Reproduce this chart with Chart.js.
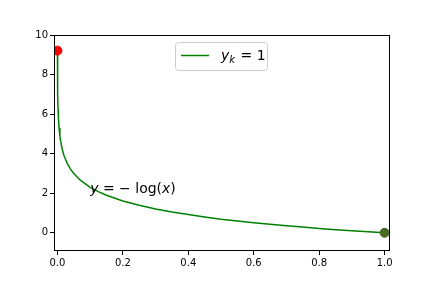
<!DOCTYPE html>
<html><head><meta charset="utf-8">
<script src="https://cdn.jsdelivr.net/npm/chart.js@4/dist/chart.umd.min.js"></script>
<style>html,body{margin:0;padding:0;background:#fff}#w{width:432px;height:288px}</style>
</head><body><div id="w"><canvas id="c" width="432" height="288"></canvas></div>
<script>
const curveX = [0.0001,0.0003,0.0005,0.001,0.002,0.003,0.005,0.0075,0.01,0.015,0.02,0.03,0.04,0.05,0.07,0.1,0.125,0.15,0.2,0.25,0.3,0.35,0.4,0.45,0.5,0.55,0.6,0.65,0.7,0.75,0.8,0.85,0.9,0.95,1.0];
const curveY = [9.21,8.11,7.60,6.91,6.21,5.81,5.30,4.89,4.61,4.20,3.91,3.51,3.22,3.00,2.66,2.30,2.08,1.90,1.61,1.39,1.20,1.05,0.92,0.80,0.69,0.60,0.51,0.43,0.36,0.29,0.22,0.16,0.11,0.05,0.00];
const startPoint = [0.0001, 9.21];
const endPoint = [1.0, 0.0];
const xTicks = [0.0,0.2,0.4,0.6,0.8,1.0];
const yTicks = [0,2,4,6,8,10];
const legendLabel = "y_k = 1";
const annotation = {x:0.1, y:2, text:"y = −log(x)"};

const curveData = curveX.map((x,i)=>({x:x,y:curveY[i]}));

const overlay = {
  id:'overlay',
  afterDatasetsDraw(chart){
    const ctx = chart.ctx, xs = chart.scales.x, ys = chart.scales.y;
    ctx.save();
    // frame
    ctx.strokeStyle='#000'; ctx.lineWidth=1;
    ctx.strokeRect(54.5,35.5,335,215);
    // annotation text
    let px = xs.getPixelForValue(annotation.x), py = ys.getPixelForValue(annotation.y);
    ctx.fillStyle = '#000';
    ctx.textBaseline = 'alphabetic';
    ctx.textAlign = 'left';
    const it = 'italic 14px "DejaVu Sans"', rm = '14px "DejaVu Sans"';
    const parts = [[it,'y'],[rm,' = − log('],[it,'x'],[rm,')']];
    for (const [f,t] of parts){ ctx.font=f; ctx.fillText(t,px,py); px += ctx.measureText(t).width; }
    // legend
    const bx=175.5, by=42.5, bw=92, bh=28, r=3;
    ctx.globalAlpha = 0.8;
    ctx.fillStyle='#fff';
    ctx.beginPath(); ctx.roundRect(bx,by,bw,bh,r); ctx.fill();
    ctx.globalAlpha = 1;
    ctx.strokeStyle='#cccccc'; ctx.lineWidth=1;
    ctx.beginPath(); ctx.roundRect(bx,by,bw,bh,r); ctx.stroke();
    ctx.strokeStyle='green'; ctx.lineWidth=1.5;
    ctx.beginPath(); ctx.moveTo(181,55.5); ctx.lineTo(209,55.5); ctx.stroke();
    ctx.fillStyle='#000';
    let lx = 221, ly = 60;
    ctx.font = it; ctx.fillText('y', lx, ly); lx += ctx.measureText('y').width;
    ctx.font = 'italic 10px "DejaVu Sans"'; ctx.fillText('k', lx, ly+3); lx += ctx.measureText('k').width + 1;
    ctx.font = rm; ctx.fillText(' = 1', lx, ly);
    ctx.restore();
  }
};

new Chart(document.getElementById('c'), {
  type:'scatter',
  data:{datasets:[
    {label:legendLabel, data:curveData, showLine:true, borderColor:'green', borderWidth:1.5, pointRadius:0, tension:0, order:3},
    {label:'start', data:[{x:startPoint[0],y:startPoint[1]}], backgroundColor:'red', borderColor:'red', pointRadius:4.5, order:1},
    {label:'end', data:[{x:endPoint[0],y:endPoint[1]}], backgroundColor:'#4a6a21', borderColor:'#4a6a21', pointRadius:4.5, order:2}
  ]},
  options:{
    responsive:false, animation:false, devicePixelRatio:1,
    layout:{padding:{left:0,right:43,top:35,bottom:0}},
    plugins:{legend:{display:false}, tooltip:{enabled:false}},
    scales:{
      x:{type:'linear', min:-0.0105, max:1.0135,
         afterFit(s){s.height=37;},
         afterBuildTicks(s){s.ticks = xTicks.map(v=>({value:v}));},
         ticks:{color:'#000', font:{family:'DejaVu Sans', size:10}, padding:2, maxRotation:0, callback:v=>v.toFixed(1)},
         grid:{drawOnChartArea:false, tickLength:4, tickColor:'#000', tickWidth:1},
         border:{display:false}},
      y:{type:'linear', min:-0.92, max:10,
         afterFit(s){s.width=54;},
         afterBuildTicks(s){s.ticks = yTicks.map(v=>({value:v}));},
         ticks:{color:'#000', font:{family:'DejaVu Sans', size:10}, padding:2, callback:v=>String(v)},
         grid:{drawOnChartArea:false, tickLength:4, tickColor:'#000', tickWidth:1},
         border:{display:false}}
    }
  },
  plugins:[overlay]
});
</script></body></html>
